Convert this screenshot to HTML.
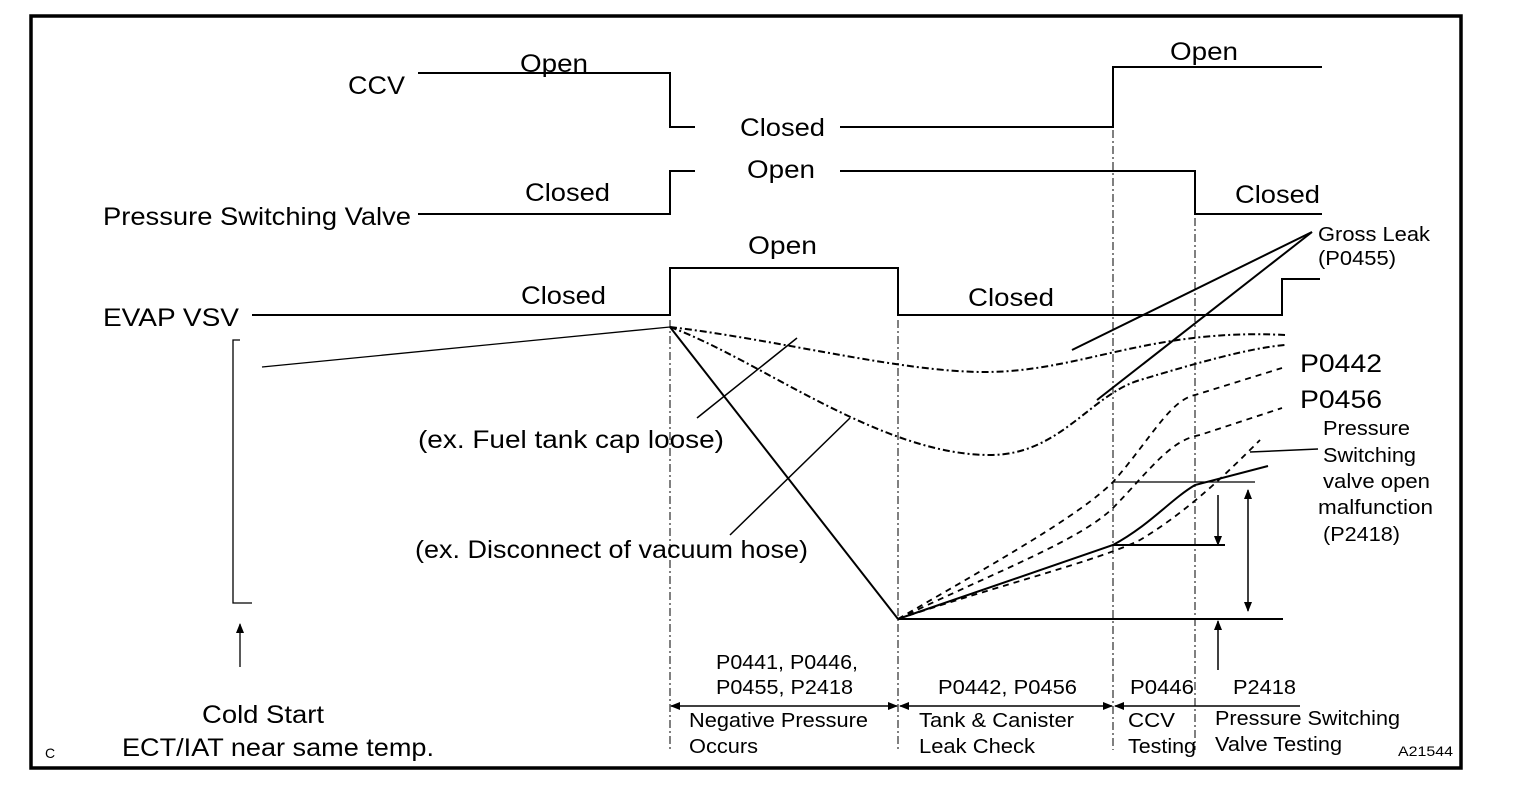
<!DOCTYPE html>
<html><head><meta charset="utf-8"><style>
html,body{margin:0;padding:0;background:#fff;}
svg{display:block;}
text{font-family:"Liberation Sans",Arial,sans-serif;fill:#000;}
</style></head><body>
<svg width="1520" height="798" viewBox="0 0 1520 798" xmlns="http://www.w3.org/2000/svg">
<defs>
<marker id="ah" markerWidth="10" markerHeight="10" refX="9" refY="5" orient="auto" markerUnits="userSpaceOnUse">
<path d="M0,1 L10,5 L0,9 z" fill="#000"/></marker>
</defs>
<rect x="31" y="16" width="1430" height="752" fill="none" stroke="#000" stroke-width="3.5"/>
<g fill="none" stroke="#000" stroke-width="2">
<polyline points="418,73 670,73 670,127 695,127"/>
<polyline points="840,127 1113,127 1113,67 1322,67"/>
<polyline points="418,214 670,214 670,171 695,171"/>
<polyline points="840,171 1195,171 1195,214 1322,214"/>
<polyline points="252,315 670,315 670,268 898,268 898,315 1282,315 1282,279 1320,279"/>
<polyline points="240,340 233,340 233,603 252,603" stroke-width="1.3"/>
<line x1="240" y1="667" x2="240" y2="624" stroke-width="1.3" marker-end="url(#ah)"/>
<line x1="262" y1="367" x2="670" y2="327" stroke-width="1.3"/>
</g>
<g stroke="#000" stroke-width="1" stroke-dasharray="8,3,2,3" fill="none">
<line x1="670" y1="320" x2="670" y2="750"/>
<line x1="898" y1="320" x2="898" y2="750"/>
<line x1="1113" y1="130" x2="1113" y2="750"/>
<line x1="1195" y1="218" x2="1195" y2="750"/>
</g>
<g fill="none" stroke="#000" stroke-width="2">
<line x1="670" y1="327" x2="898" y2="619"/>
<line x1="898" y1="619" x2="1283" y2="619"/>
<path d="M898,619 L1113,545 C1150,525 1170,500 1195,485 L1268,466"/>
<line x1="1113" y1="545" x2="1225" y2="545"/>
<line x1="1113" y1="482" x2="1255" y2="482" stroke-width="1.3"/>
<line x1="1312" y1="232" x2="1072" y2="350"/>
<line x1="1312" y1="232" x2="1097" y2="400"/>
<line x1="697" y1="418" x2="797" y2="338" stroke-width="1.5"/>
<line x1="730" y1="535" x2="850" y2="418" stroke-width="1.5"/>
<line x1="1250" y1="452" x2="1318" y2="449" stroke-width="1.5"/>
</g>
<g stroke="#000" stroke-width="1.5" fill="none">
<line x1="1218" y1="495" x2="1218" y2="545" marker-end="url(#ah)"/>
<line x1="1248" y1="550" x2="1248" y2="490" marker-end="url(#ah)"/>
<line x1="1248" y1="550" x2="1248" y2="611" marker-end="url(#ah)"/>
<line x1="1218" y1="670" x2="1218" y2="621" marker-end="url(#ah)"/>
<line x1="785" y1="706" x2="671" y2="706" marker-end="url(#ah)"/>
<line x1="785" y1="706" x2="897" y2="706" marker-end="url(#ah)"/>
<line x1="1005" y1="706" x2="900" y2="706" marker-end="url(#ah)"/>
<line x1="1005" y1="706" x2="1112" y2="706" marker-end="url(#ah)"/>
<line x1="1300" y1="706" x2="1115" y2="706" marker-end="url(#ah)"/>
</g>
<g fill="none" stroke="#000" stroke-width="2" stroke-dasharray="7,3,2,3">
<path d="M670,327 C780,340 900,372 985,372 C1080,372 1150,328 1285,335"/>
<path d="M670,327 C760,360 880,455 990,455 C1060,455 1090,395 1140,380 C1200,362 1250,348 1285,345"/>
</g>
<g fill="none" stroke="#000" stroke-width="1.8" stroke-dasharray="6,5">
<path d="M898,619 C1000,560 1080,515 1113,482 C1150,440 1170,400 1195,395 L1282,368"/>
<path d="M898,619 C1000,570 1080,540 1113,508 C1150,470 1170,440 1200,435 L1282,408"/>
<path d="M898,619 C1000,585 1100,560 1140,540 C1190,510 1230,470 1260,440"/>
</g>
<g font-size="25">
<text x="348" y="94" textLength="57" lengthAdjust="spacingAndGlyphs">CCV</text>
<text x="520" y="72" textLength="68" lengthAdjust="spacingAndGlyphs">Open</text>
<text x="740" y="136" textLength="85" lengthAdjust="spacingAndGlyphs">Closed</text>
<text x="1170" y="60" textLength="68" lengthAdjust="spacingAndGlyphs">Open</text>
<text x="103" y="225" textLength="308" lengthAdjust="spacingAndGlyphs">Pressure Switching Valve</text>
<text x="525" y="201" textLength="85" lengthAdjust="spacingAndGlyphs">Closed</text>
<text x="747" y="178" textLength="68" lengthAdjust="spacingAndGlyphs">Open</text>
<text x="1235" y="203" textLength="85" lengthAdjust="spacingAndGlyphs">Closed</text>
<text x="103" y="326" textLength="136" lengthAdjust="spacingAndGlyphs">EVAP VSV</text>
<text x="521" y="304" textLength="85" lengthAdjust="spacingAndGlyphs">Closed</text>
<text x="748" y="254" textLength="69" lengthAdjust="spacingAndGlyphs">Open</text>
<text x="968" y="306" textLength="86" lengthAdjust="spacingAndGlyphs">Closed</text>
<text x="1300" y="372" textLength="82" lengthAdjust="spacingAndGlyphs">P0442</text>
<text x="1300" y="408" textLength="82" lengthAdjust="spacingAndGlyphs">P0456</text>
<text x="418" y="448" textLength="306" lengthAdjust="spacingAndGlyphs">(ex. Fuel tank cap loose)</text>
<text x="415" y="558" textLength="393" lengthAdjust="spacingAndGlyphs">(ex. Disconnect of vacuum hose)</text>
<text x="202" y="723" textLength="122" lengthAdjust="spacingAndGlyphs">Cold Start</text>
<text x="122" y="756" textLength="312" lengthAdjust="spacingAndGlyphs">ECT/IAT near same temp.</text>
</g>
<g font-size="20">
<text x="1318" y="241" textLength="112" lengthAdjust="spacingAndGlyphs">Gross Leak</text>
<text x="1318" y="265" textLength="78" lengthAdjust="spacingAndGlyphs">(P0455)</text>
<text x="1323" y="435" textLength="87" lengthAdjust="spacingAndGlyphs">Pressure</text>
<text x="1323" y="462" textLength="93" lengthAdjust="spacingAndGlyphs">Switching</text>
<text x="1323" y="488" textLength="107" lengthAdjust="spacingAndGlyphs">valve open</text>
<text x="1318" y="514" textLength="115" lengthAdjust="spacingAndGlyphs">malfunction</text>
<text x="1323" y="541" textLength="77" lengthAdjust="spacingAndGlyphs">(P2418)</text>
<text x="716" y="669" textLength="142" lengthAdjust="spacingAndGlyphs">P0441, P0446,</text>
<text x="716" y="694" textLength="137" lengthAdjust="spacingAndGlyphs">P0455, P2418</text>
<text x="938" y="694" textLength="139" lengthAdjust="spacingAndGlyphs">P0442, P0456</text>
<text x="1130" y="694" textLength="64" lengthAdjust="spacingAndGlyphs">P0446</text>
<text x="1233" y="694" textLength="63" lengthAdjust="spacingAndGlyphs">P2418</text>
<text x="689" y="727" textLength="179" lengthAdjust="spacingAndGlyphs">Negative Pressure</text>
<text x="689" y="753" textLength="69" lengthAdjust="spacingAndGlyphs">Occurs</text>
<text x="919" y="727" textLength="155" lengthAdjust="spacingAndGlyphs">Tank &amp; Canister</text>
<text x="919" y="753" textLength="116" lengthAdjust="spacingAndGlyphs">Leak Check</text>
<text x="1128" y="727" textLength="47" lengthAdjust="spacingAndGlyphs">CCV</text>
<text x="1128" y="753" textLength="68" lengthAdjust="spacingAndGlyphs">Testing</text>
<text x="1215" y="725" textLength="185" lengthAdjust="spacingAndGlyphs">Pressure Switching</text>
<text x="1215" y="751" textLength="127" lengthAdjust="spacingAndGlyphs">Valve Testing</text>
</g>
<text x="45" y="758" font-size="14">C</text>
<text x="1398" y="756" font-size="14" textLength="55" lengthAdjust="spacingAndGlyphs">A21544</text>
</svg>
</body></html>
